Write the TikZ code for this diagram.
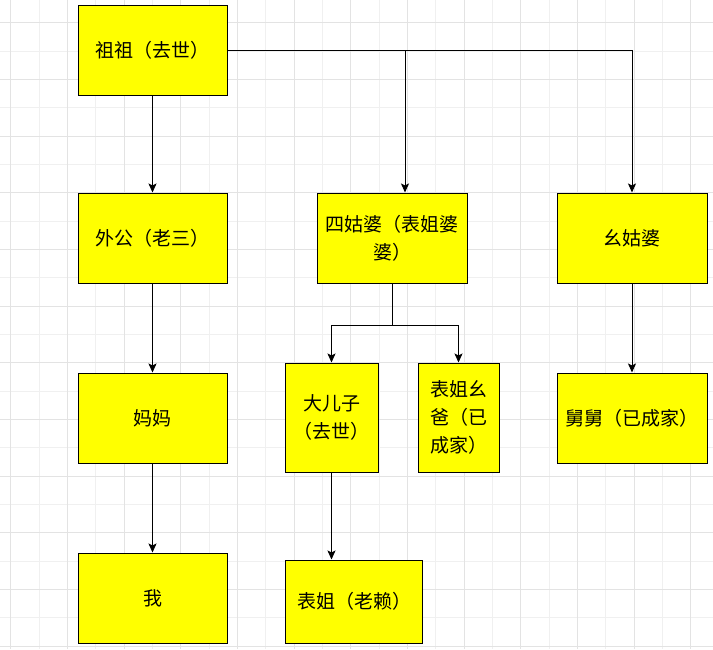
\documentclass[tikz,border=0pt]{standalone}
\usepackage{fontspec}
\setmainfont{Noto Sans CJK SC}
\usetikzlibrary{arrows.meta}
\definecolor{boxyellow}{RGB}{255,255,0}
\tikzset{>={Stealth[length=9pt,width=8pt,inset=2pt]}}
\tikzset{
  person/.style={draw, line width=1pt, fill=boxyellow, inner sep=0pt, align=center,
    font=\fontsize{19}{28}\selectfont},
  link/.style={->, line width=1pt},
}

\begin{document}
\begin{tikzpicture}[x=1pt,y=-1pt]
    \useasboundingbox (0,0) rectangle (713,649);
    \fill[white] (0,0) rectangle (713,649);
    % grid
    \foreach \i in {1,3,...,23} \draw[gray!12, line width=0.8pt] (10.7+28.33*\i,0) -- ++(0,649);
    \foreach \j in {1,3,...,21} \draw[gray!12, line width=0.8pt] (0,22.7+28.33*\j) -- ++(713,0);
    \foreach \i in {0,2,...,24} \draw[gray!22, line width=0.8pt] (10.7+28.33*\i,0) -- ++(0,649);
    \foreach \j in {0,2,...,22} \draw[gray!22, line width=0.8pt] (0,22.7+28.33*\j) -- ++(713,0);

    \node[person, minimum width=149pt, minimum height=90pt] (zuzu) at (152.5,50) {祖祖（去世）};
    \node[person, minimum width=149pt, minimum height=90pt] (waigong) at (152.5,238) {外公（老三）};
    \node[person, minimum width=149pt, minimum height=90pt] (mama) at (152.5,418) {妈妈};
    \node[person, minimum width=149pt, minimum height=90pt] (wo) at (152.5,598) {我};
    \node[person, minimum width=150pt, minimum height=90pt] (sigupo) at (392,238) {四姑婆（表姐婆\\婆）};
    \node[person, minimum width=150pt, minimum height=90pt] (yaogupo) at (632,238) {幺姑婆};
    \node[person, minimum width=93pt, minimum height=109pt] (daerzi) at (331.5,417.5) {大儿子\\（去世）};
    \node[person, minimum width=81pt, minimum height=109pt] (yaoba) at (458.5,417.5) {表姐幺\\爸（已\\成家）};
    \node[person, minimum width=150pt, minimum height=90pt] (jiujiu) at (632,418) {舅舅（已成家）};
    \node[person, minimum width=137pt, minimum height=83pt] (biaojie) at (354,601.5) {表姐（老赖）};

    \coordinate (split1) at (405,50);
    \coordinate (split2) at (392,325);

    \draw[link] (zuzu.east) -| (yaogupo.north);
    \draw[link] (split1) -- (split1 |- sigupo.north);
    \draw[link] (zuzu) -- (waigong);
    \draw[link] (waigong) -- (mama);
    \draw[link] (mama) -- (wo);
    \draw[line width=1pt] (sigupo.south) -- (split2);
    \draw[link] (split2) -| (daerzi.north);
    \draw[link] (split2) -| (yaoba.north);
    \draw[link] (daerzi.south) -- (daerzi.south |- biaojie.north);
    \draw[link] (yaogupo) -- (jiujiu);
\end{tikzpicture}
\end{document}
